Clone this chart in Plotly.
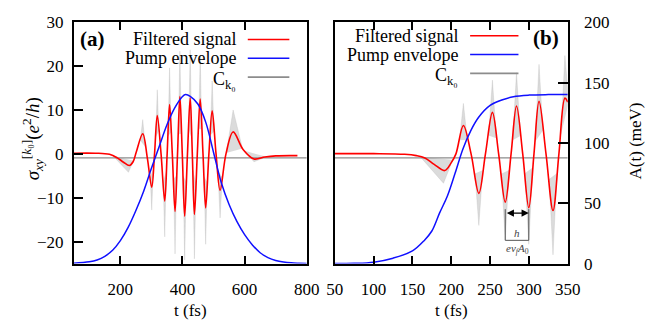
import numpy as np
import plotly.graph_objects as go

W, H = 661, 333
SERIF = "Liberation Serif"

# ---------------- panel (a): Gaussian pump ----------------
red_a_t = [50, 120, 165, 190, 210, 229, 241, 251.5, 272, 287, 301, 310, 318.8, 331, 342.8,
           350.6, 358.4, 367.2, 376, 384, 391.6, 399.3, 407, 416, 424.8, 431.6, 438.4,
           447.7, 457, 466, 474.6, 485, 495.5, 508, 521, 540, 563, 595, 630, 665, 700, 770]
red_a_v = [0.15, 0.15, -0.1, -0.9, -1.9, -2.65, -1.8, 0.5, 4.6, -1.0, -7.6, 0, 8.75, 0, -10.75,
           0, 11.25, 0, -13.1, 0, 13.05, 0, -14.2, 0, 12.8, 0, -13.8,
           0, 12.5, 0, -12.3, 0, 9.8, 0, -8.3, 0, 5.0, 1.0, -1.15, -0.7, -0.45, -0.4]

pump_a_t = [50, 100, 125, 150, 175, 200, 225, 250, 275, 300, 325, 350, 375, 400, 410, 425,
            450, 475, 500, 525, 550, 575, 600, 625, 650, 675, 700, 725, 750, 775, 800]
pump_a_v = [0.3, 1.5, 3.0, 6.0, 11, 19, 30, 44, 60, 79, 97, 115, 129, 138.5, 140, 138.5,
            132, 117, 92, 67, 49, 35, 24, 15.5, 9, 5, 2.6, 1.3, 0.6, 0.3, 0.1]

# bursts of the raw C_k0 signal around the extrema of the filtered one
# (time, extreme value, spread before, spread after)
ck0_a_t = [226, 272, 301, 318.8, 342.8, 358.4, 376, 391.6, 407, 424.8, 438.4, 457, 474.6,
           495.5, 521, 563, 630]
ck0_a_tip = [-4.2, 7.8, -12.8, 14.6, -18.9, 19.6, -22.8, 23.4, -24.2, 23.7, -23.9, 22.4,
             -20.6, 16.6, -14.6, 10.0, -1.8]
ck0_a_wl = [50, 8, 5, 5, 5, 5, 5, 5, 5, 5, 5, 5, 5, 6, 7, 22, 30]
ck0_a_wr = [16, 8, 5, 5, 5, 5, 5, 5, 5, 5, 5, 5, 5, 6, 7, 30, 40]

# ---------------- panel (b): step-like pump ----------------
red_b_t = [50, 100, 140, 155, 166, 178, 191.5, 200, 206, 215.6, 225.5, 235.5, 244, 253, 261,
           269.5, 277, 284, 292, 299.8, 306.5, 313, 322, 331, 338.6, 346.3, 350]
red_b_v = [0.05, 0.05, -0.1, -0.4, -0.93, -2.4, -3.8, -2.0, 0, 6.45, 0, -9.0, 0, 9.46, 0,
           -11.0, 0, 10.9, 0, -12.26, 0, 12.0, 0, -12.9, 0, 12.7, 11.8]

pump_b_t = [50, 75, 100, 125, 150, 165, 175, 185, 195, 205, 215, 225, 235, 250, 265, 280,
            300, 325, 350]
pump_b_v = [0, 0.2, 1.2, 4.5, 10.5, 19, 27, 42, 56, 75, 95, 110, 121, 131, 135.5, 138.3,
            139.6, 140, 140]

ck0_b_t = [190, 215.6, 235.5, 253, 269.5, 284, 299.8, 313, 331, 346.3]
ck0_b_tip = [-6.7, 11.5, -16.3, 16.8, -19.6, 18.5, -20.6, 20.4, -23.0, 22.4]
ck0_b_wl = [30, 5, 5, 5, 5, 5, 5, 5, 5, 5]
ck0_b_wr = [12, 5, 5, 5, 5, 5, 5, 5, 5, 5]

baseline_v = -0.9

# ---------------- helpers ----------------
def burst_polygons(ts, tips, wl, wr, rt, rv):
    xs, ys = [], []
    for t, tip, a, b in zip(ts, tips, wl, wr):
        lo, hi = t - a, t + b
        xs += [lo, t, hi, None]
        ys += [float(np.interp(lo, rt, rv)), tip, float(np.interp(hi, rt, rv)), None]
    return xs, ys


RED = "#ff0000"
BLUE = "#1010ff"
GRAY = "#8c8c8c"

fig = go.Figure()


def add_panel(xa, ya, ya2, rt, rv, pt, pv, ct, ctip, wl, wr, xmax):
    bx, by = burst_polygons(ct, ctip, wl, wr, rt, rv)
    fig.add_trace(go.Scatter(x=bx, y=by, mode="lines", fill="toself",
                             fillcolor="rgba(175,175,175,0.45)",
                             line=dict(color="rgba(170,170,170,0.5)", width=0.5),
                             xaxis=xa, yaxis=ya, showlegend=False, hoverinfo="skip"))
    fig.add_trace(go.Scatter(x=[50, xmax], y=[baseline_v, baseline_v],
                             mode="lines", line=dict(color=GRAY, width=1.2),
                             xaxis=xa, yaxis=ya, showlegend=False))
    fig.add_trace(go.Scatter(x=pt, y=pv, mode="lines", line=dict(color=BLUE, width=1.5, shape="spline"),
                             xaxis=xa, yaxis=ya2, showlegend=False))
    fig.add_trace(go.Scatter(x=rt, y=rv, mode="lines",
                             line=dict(color=RED, width=1.6, shape="spline", smoothing=1.0),
                             xaxis=xa, yaxis=ya, showlegend=False))


add_panel("x", "y", "y2", red_a_t, red_a_v, pump_a_t, pump_a_v,
          ck0_a_t, ck0_a_tip, ck0_a_wl, ck0_a_wr, 800)
add_panel("x2", "y3", "y4", red_b_t, red_b_v, pump_b_t, pump_b_v,
          ck0_b_t, ck0_b_tip, ck0_b_wl, ck0_b_wr, 350)

# ---------------- axes ----------------
ydom = [1 - 270 / H, 1 - 14 / H]
tickfont = dict(family=SERIF, size=17, color="black")
common = dict(showgrid=False, zeroline=False, showline=True, linecolor="black", linewidth=1.5,
              ticks="inside", tickcolor="black", tickwidth=1.5, tickfont=tickfont)

fig.update_layout(
    width=W, height=H, margin=dict(l=0, r=0, t=0, b=0),
    font=dict(family=SERIF, size=17, color="black"),
    paper_bgcolor="white", plot_bgcolor="white", showlegend=False,
    xaxis=dict(domain=[67 / W, 308 / W], range=[50, 800], anchor="y", tick0=0, dtick=200,
               ticklen=8, mirror="ticks", ticklabelstandoff=9, **common),
    yaxis=dict(domain=ydom, range=[-25, 30], anchor="x", tick0=0, dtick=10,
               ticklen=9, mirror=True, ticklabelstandoff=5, **common),
    yaxis2=dict(domain=ydom, range=[0, 200], overlaying="y", anchor="x", visible=False),
    xaxis2=dict(domain=[337 / W, 578 / W], range=[50, 350], anchor="y3", tick0=0, dtick=50,
                ticklen=8, mirror="ticks", ticklabelstandoff=9, **common),
    yaxis3=dict(domain=ydom, range=[-25, 30], anchor="x2", showticklabels=False,
                showgrid=False, zeroline=False, showline=True, linecolor="black",
                linewidth=1.5, mirror=True, ticks=""),
    yaxis4=dict(domain=ydom, range=[0, 200], overlaying="y3", anchor="x2", side="right",
                tick0=0, dtick=50, ticklen=10, ticklabelstandoff=11, **common),
)

ann = []
shapes = []


def text(x, y, s, size=17, xanchor="center", yanchor="middle", angle=0, color="black"):
    ann.append(dict(x=x / W, y=1 - y / H, xref="paper", yref="paper", text=s, showarrow=False,
                    xanchor=xanchor, yanchor=yanchor, textangle=angle,
                    font=dict(family=SERIF, size=size, color=color)))


# axis titles
text(188, 320, "t (fs)")
text(458, 320, "t (fs)")
text(648, 140, "A(t) (meV)", angle=-90)
text(24, 138, "<i>σ</i><sub><i>xy</i></sub><sup>[<i>k</i>₀]</sup>(<i>e</i><sup>2</sup>/<i>h</i>)",
     size=19, angle=-90)

# panel labels
text(86, 32, "<b>(a)</b>", size=21)
text(556, 31, "<b>(b)</b>", size=21)

# legends
names = ["Filtered signal", "Pump envelope", "C<sub>k₀</sub>"]
colors = [RED, BLUE, GRAY]
for (xr, x0, x1, y0) in [(237, 247, 290, 32.3), (467, 477, 527, 28.3)]:
    for i, (nm, col) in enumerate(zip(names, colors)):
        yy = y0 + 20 * i
        text(xr, yy + (3 if i == 2 else 0), nm, size=18, xanchor="right")
        shapes.append(dict(type="line", xref="paper", yref="paper", x0=x0 / W, x1=x1 / W,
                           y0=1 - yy / H, y1=1 - yy / H, line=dict(color=col, width=1.6)))

# period bracket between two successive minima in panel (b)
mins = [i for i in range(1, len(red_b_v) - 1)
        if red_b_v[i] < red_b_v[i - 1] and red_b_v[i] < red_b_v[i + 1]]
t1, t2 = red_b_t[mins[2]], red_b_t[mins[3]]
for tt in (t1, t2):
    shapes.append(dict(type="line", xref="x2", yref="y3", x0=tt, x1=tt, y0=-12.6, y1=-19.7,
                       line=dict(color="#555555", width=1)))
shapes.append(dict(type="line", xref="x2", yref="y3", x0=t1, x1=t2, y0=-19.7, y1=-19.7,
                   line=dict(color="#555555", width=1)))
ann.append(dict(x=t2, y=-13.5, ax=t1, ay=-13.5, xref="x2", yref="y3", axref="x2", ayref="y3",
                showarrow=True, arrowhead=2, arrowside="end+start", arrowsize=1.2,
                arrowwidth=1.2, arrowcolor="black", text=""))
ann.append(dict(x=(t1 + t2) / 2, y=-18.0, xref="x2", yref="y3", text="<i>h</i>", showarrow=False,
                font=dict(family=SERIF, size=11, color="#444444")))
ann.append(dict(x=(t1 + t2) / 2, y=-21.6, xref="x2", yref="y3",
                text="<i>ev<sub>f</sub>A</i><sub>0</sub>", showarrow=False,
                font=dict(family=SERIF, size=11, color="#444444")))

fig.update_layout(annotations=ann, shapes=shapes)
fig.write_html("out.html")
